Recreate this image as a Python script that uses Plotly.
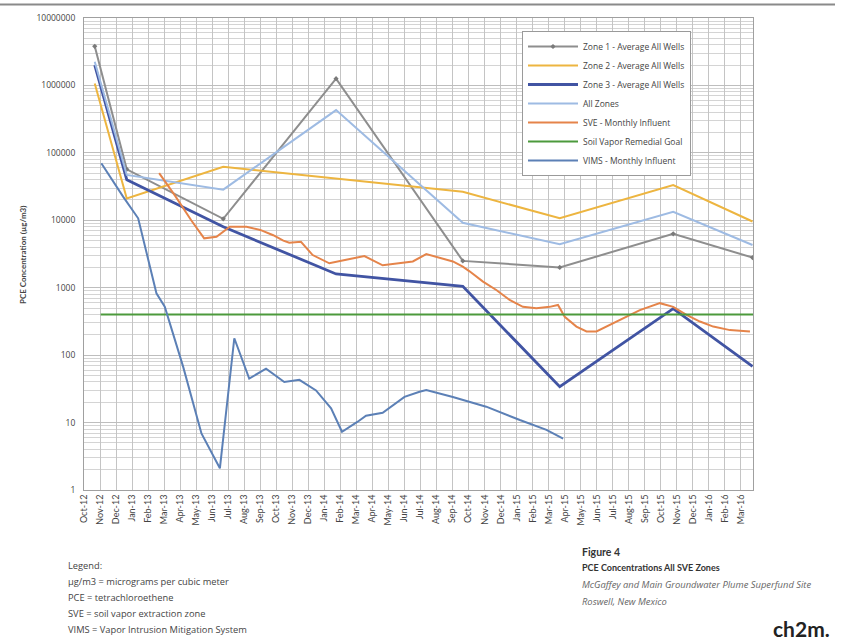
import plotly.graph_objects as go

# ---------------- data ----------------
months = ["Oct-12", "Nov-12", "Dec-12", "Jan-13", "Feb-13", "Mar-13", "Apr-13", "May-13",
          "Jun-13", "Jul-13", "Aug-13", "Sep-13", "Oct-13", "Nov-13", "Dec-13", "Jan-14",
          "Feb-14", "Mar-14", "Apr-14", "May-14", "Jun-14", "Jul-14", "Aug-14", "Sep-14",
          "Oct-14", "Nov-14", "Dec-14", "Jan-15", "Feb-15", "Mar-15", "Apr-15", "May-15",
          "Jun-15", "Jul-15", "Aug-15", "Sep-15", "Oct-15", "Nov-15", "Dec-15", "Jan-16",
          "Feb-16", "Mar-16"]

# sampling events (position in months after Oct-12)
zone_x = [0.67, 2.67, 8.69, 15.73, 23.64, 29.69, 36.77, 41.72]
zone1 = [3800000, 57000, 10500, 1260000, 2500, 2000, 6300, 2800]
zone2 = [1070000, 21000, 62000, 42000, 26500, 10700, 33400, 9600]
zone3 = [2000000, 40000, 8000, 1600, 1050, 34, 490, 68]
all_zones = [2250000, 47000, 28500, 431000, 9200, 4400, 13400, 4300]

sve_x = [4.69, 5.69, 6.69, 7.5, 8.27, 9.1, 10.14, 11.0, 11.81, 12.44, 12.81, 13.54, 14.27,
         15.31, 16.36, 17.5, 18.64, 19.69, 20.52, 21.36, 22.19, 23.02, 23.64, 24.06, 24.9,
         25.73, 26.56, 27.39, 28.23, 29.06, 29.58, 30.0, 30.73, 31.36, 31.98, 32.6, 33.44,
         34.69, 35.94, 36.77, 37.6, 38.44, 39.27, 40.31, 41.56]
sve = [50000, 23000, 10000, 5400, 5700, 8000, 8000, 7200, 6000, 5000, 4650, 4800, 3050,
       2300, 2600, 2950, 2150, 2300, 2450, 3150, 2800, 2450, 2050, 1750, 1230,
       925, 660, 520, 495, 520, 555, 370, 265, 225, 225, 265, 330,
       465, 590, 520, 395, 315, 265, 235, 225]

goal_x = [1.04, 41.75]
goal = [400, 400]

vims_x = [1.08, 2.44, 3.38, 4.52, 5.04, 6.19, 7.33, 8.48, 9.38, 10.31, 11.36, 12.5, 13.44,
          14.48, 15.42, 16.1, 17.08, 17.6, 18.64, 20.0, 20.94, 21.36, 23.02, 25.1, 27.2,
          28.86, 29.9]
vims = [70000, 22400, 10700, 826, 523, 67, 6.9, 2.1, 178, 45, 63, 40, 43,
        30, 16.3, 7.3, 10.3, 12.6, 14, 24, 28.7, 30.4, 24, 17.2, 10.9,
        7.8, 5.8]

y_ticks = [1, 10, 100, 1000, 10000, 100000, 1000000, 10000000]
y_ticktext = ["1", "10", "100", "1000", "10000", "100000", "1000000", "10000000"]
y_minor = [d * m for d in y_ticks[:-1] for m in range(2, 10)]

# ---------------- figure ----------------
FONT = "Lato, 'DejaVu Sans', sans-serif"
FONT2 = "'Open Sans', 'DejaVu Sans', sans-serif"
fig = go.Figure()

fig.add_trace(go.Scatter(x=zone_x, y=zone1, mode="lines+markers", name="Zone 1 - Average All Wells",
                         line=dict(color="#8E8E8E", width=2),
                         marker=dict(symbol="diamond", size=4, color="#7A7A7A")))
fig.add_trace(go.Scatter(x=zone_x, y=zone2, mode="lines", name="Zone 2 - Average All Wells",
                         line=dict(color="#EDB540", width=2)))
fig.add_trace(go.Scatter(x=zone_x, y=zone3, mode="lines", name="Zone 3 - Average All Wells",
                         line=dict(color="#4154A3", width=2.8)))
fig.add_trace(go.Scatter(x=zone_x, y=all_zones, mode="lines", name="All Zones",
                         line=dict(color="#9EBBE3", width=2)))
fig.add_trace(go.Scatter(x=sve_x, y=sve, mode="lines", name="SVE - Monthly Influent",
                         line=dict(color="#E5844A", width=2)))
fig.add_trace(go.Scatter(x=goal_x, y=goal, mode="lines", name="Soil Vapor Remedial Goal",
                         line=dict(color="#4C9A3C", width=2)))
fig.add_trace(go.Scatter(x=vims_x, y=vims, mode="lines", name="VIMS - Monthly Influent",
                         line=dict(color="#5C80B6", width=2)))

L, R, T, B = 84, 753, 18, 490
W, H = R - L, B - T


def px(x):
    return (x - L) / W


def py(y):
    return (B - y) / H


fig.update_layout(
    width=842, height=643,
    margin=dict(l=L, r=842 - R, t=T, b=643 - B),
    paper_bgcolor="white", plot_bgcolor="white",
    font=dict(family=FONT, size=9, color="#444"),
    showlegend=True,
    legend=dict(x=px(522), y=py(31), xanchor="left", yanchor="top",
                bgcolor="white", bordercolor="#9A9A9A", borderwidth=1,
                font=dict(size=8.5, color="#444", family=FONT2), itemwidth=50,
                tracegroupgap=0),
)

fig.update_xaxes(range=[0, 41.75], tickmode="array", tickvals=list(range(len(months))),
                 ticktext=months, tickangle=-90, tickfont=dict(size=9, color="#444"),
                 showgrid=True, gridcolor="#C4C4C4", gridwidth=1,
                 showline=True, linecolor="#A0A0A0", mirror=True, zeroline=False, ticks="")

fig.update_yaxes(type="log", range=[0, 7], tickmode="array", tickvals=y_ticks, ticktext=y_ticktext,
                 tickfont=dict(size=8.5, color="#444", family=FONT2), ticklabelstandoff=6,
                 showgrid=True, gridcolor="#BEBEBE", gridwidth=1,
                 minor=dict(tickmode="array", tickvals=y_minor, showgrid=True,
                            gridcolor="#D4D4D4", gridwidth=1, ticks=""),
                 showline=True, linecolor="#A0A0A0", mirror=True, zeroline=False, ticks="")

# y-axis title
fig.add_annotation(x=px(16), y=py(255), xref="paper", yref="paper", text="<b>PCE Concentration (µg/m3)</b>",
                   textangle=-90, showarrow=False, font=dict(size=8, color="#444", family=FONT))

# top border line
fig.add_shape(type="line", xref="paper", yref="paper", x0=px(0), x1=px(835), y0=py(4.5), y1=py(4.5),
              line=dict(color="#8A8A8A", width=2))

# abbreviation notes
notes = [("Legend:", 565), ("µg/m3 = micrograms per cubic meter", 581),
         ("PCE = tetrachloroethene", 597), ("SVE = soil vapor extraction zone", 613),
         ("VIMS = Vapor Intrusion Mitigation System", 629)]
for txt, yy in notes:
    fig.add_annotation(x=px(66), y=py(yy), xref="paper", yref="paper", text=txt, showarrow=False,
                       xanchor="left", yanchor="middle", font=dict(size=9.3, color="#444", family=FONT2))

# figure caption
fig.add_annotation(x=px(580), y=py(552), xref="paper", yref="paper", text="<b>Figure 4</b>", showarrow=False,
                   xanchor="left", yanchor="middle", font=dict(size=10.5, color="#333", family=FONT))
fig.add_annotation(x=px(580), y=py(567), xref="paper", yref="paper",
                   text="<b>PCE Concentrations All SVE Zones</b>", showarrow=False,
                   xanchor="left", yanchor="middle", font=dict(size=9, color="#333", family=FONT))
fig.add_annotation(x=px(580), y=py(584), xref="paper", yref="paper",
                   text="<i>McGaffey and Main Groundwater Plume Superfund Site</i>", showarrow=False,
                   xanchor="left", yanchor="middle", font=dict(size=9.4, color="#666", family=FONT2))
fig.add_annotation(x=px(580), y=py(601), xref="paper", yref="paper",
                   text="<i>Roswell, New Mexico</i>", showarrow=False,
                   xanchor="left", yanchor="middle", font=dict(size=9.4, color="#666", family=FONT2))
fig.add_annotation(x=px(832), y=py(628), xref="paper", yref="paper",
                   text="<b>ch2m</b><b>.</b>", showarrow=False,
                   xanchor="right", yanchor="middle", font=dict(size=21, color="#222", family=FONT))

fig.write_html("out.html")
